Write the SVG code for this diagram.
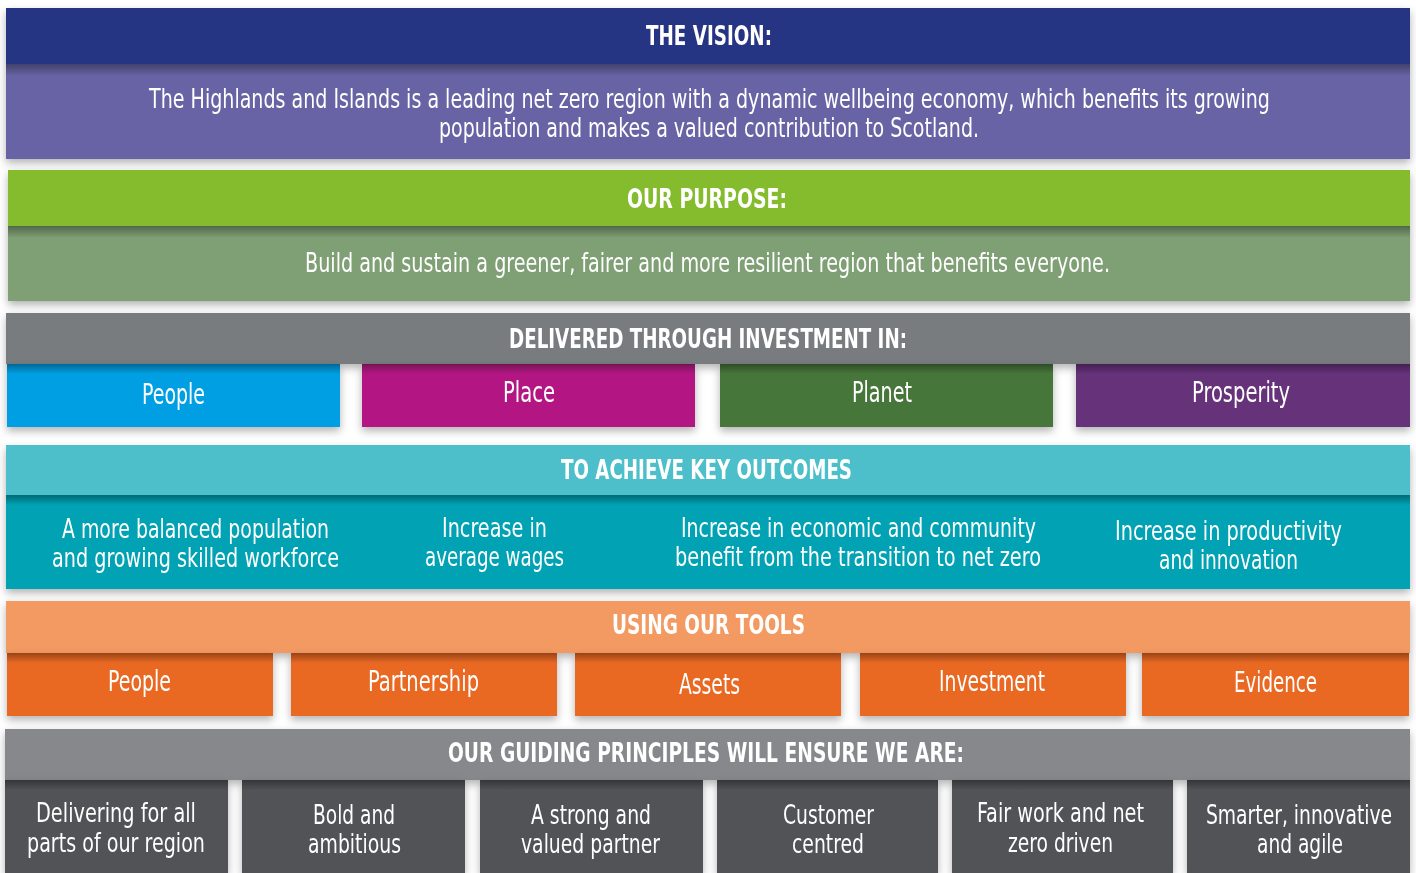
<svg xmlns="http://www.w3.org/2000/svg" width="1416" height="873" viewBox="0 0 1416 873">
<defs>
<filter id="ds" x="-5%" y="-20%" width="110%" height="150%">
<feDropShadow dx="0" dy="4" stdDeviation="4" flood-color="#000" flood-opacity="0.3"/>
</filter>
<linearGradient id="ish" x1="0" y1="0" x2="0" y2="1">
<stop offset="0" stop-color="#000" stop-opacity="0.35"/>
<stop offset="1" stop-color="#000" stop-opacity="0"/>
</linearGradient>
<style>
text{fill:#fff;font-family:"Liberation Sans Narrow","DejaVu Sans Condensed","Liberation Sans",sans-serif;text-anchor:middle}
.h{font-weight:bold;font-size:26px}
.b{font-size:27px}
.c{font-size:28px}
.sh{fill:url(#ish)}
</style>
</defs>
<rect width="1416" height="873" fill="#fff"/>

<g id="vision" filter="url(#ds)">
<rect x="6" y="8" width="1404" height="56" fill="#283583"/>
<rect x="6" y="64" width="1404" height="95" fill="#6764a4"/>
<rect class="sh" x="6" y="64" width="1404" height="12"/>
<text class="h" x="709" y="45" textLength="126" lengthAdjust="spacingAndGlyphs">THE VISION:</text>
<text class="b" transform="translate(709.5,108) scale(0.8,1)" x="0" y="0" textLength="1401" lengthAdjust="spacingAndGlyphs">The Highlands and Islands is a leading net zero region with a dynamic wellbeing economy, which benefits its growing</text>
<text class="b" x="709" y="137" textLength="540" lengthAdjust="spacingAndGlyphs">population and makes a valued contribution to Scotland.</text>
</g>

<g id="purpose" filter="url(#ds)">
<rect x="8" y="170" width="1402" height="56" fill="#84bc2e"/>
<rect x="8" y="226" width="1402" height="75" fill="#7f9f74"/>
<rect class="sh" x="8" y="226" width="1402" height="12"/>
<text class="h" x="707" y="208" textLength="160" lengthAdjust="spacingAndGlyphs">OUR PURPOSE:</text>
<text class="b" x="707.5" y="272" textLength="805" lengthAdjust="spacingAndGlyphs">Build and sustain a greener, fairer and more resilient region that benefits everyone.</text>
</g>

<g id="delivered" filter="url(#ds)">
<rect x="6" y="313" width="1404" height="51" fill="#787b7e"/>
<text class="h" x="708" y="348" textLength="398" lengthAdjust="spacingAndGlyphs">DELIVERED THROUGH INVESTMENT IN:</text>
</g>
<g id="inv-people" filter="url(#ds)">
<rect x="7" y="364" width="333" height="63" fill="#009fe3"/>
<rect class="sh" x="7" y="364" width="333" height="10"/>
<text class="c" x="173.5" y="404" textLength="63" lengthAdjust="spacingAndGlyphs">People</text>
</g>
<g id="inv-place" filter="url(#ds)">
<rect x="362" y="364" width="333" height="63" fill="#b31983"/>
<rect class="sh" x="362" y="364" width="333" height="10"/>
<text class="c" x="529" y="402" textLength="52" lengthAdjust="spacingAndGlyphs">Place</text>
</g>
<g id="inv-planet" filter="url(#ds)">
<rect x="720" y="364" width="333" height="63" fill="#47763a"/>
<rect class="sh" x="720" y="364" width="333" height="10"/>
<text class="c" x="882" y="402" textLength="60" lengthAdjust="spacingAndGlyphs">Planet</text>
</g>
<g id="inv-prosperity" filter="url(#ds)">
<rect x="1076" y="364" width="334" height="63" fill="#66327a"/>
<rect class="sh" x="1076" y="364" width="334" height="10"/>
<text class="c" x="1241" y="402" textLength="98" lengthAdjust="spacingAndGlyphs">Prosperity</text>
</g>

<g id="outcomes" filter="url(#ds)">
<rect x="6" y="445" width="1404" height="50" fill="#4dbfcb"/>
<rect x="6" y="495" width="1404" height="94" fill="#00a2b3"/>
<rect class="sh" x="6" y="495" width="1404" height="10"/>
<text class="h" x="706.5" y="479" textLength="291" lengthAdjust="spacingAndGlyphs">TO ACHIEVE KEY OUTCOMES</text>
<text class="b" x="195.5" y="538" textLength="267" lengthAdjust="spacingAndGlyphs">A more balanced population</text>
<text class="b" x="195.5" y="567" textLength="287" lengthAdjust="spacingAndGlyphs">and growing skilled workforce</text>
<text class="b" x="494.5" y="537" textLength="105" lengthAdjust="spacingAndGlyphs">Increase in</text>
<text class="b" x="494.5" y="566" textLength="139" lengthAdjust="spacingAndGlyphs">average wages</text>
<text class="b" x="858.5" y="537" textLength="355" lengthAdjust="spacingAndGlyphs">Increase in economic and community</text>
<text class="b" x="858" y="566" textLength="366" lengthAdjust="spacingAndGlyphs">benefit from the transition to net zero</text>
<text class="b" x="1228.5" y="540" textLength="227" lengthAdjust="spacingAndGlyphs">Increase in productivity</text>
<text class="b" x="1228.5" y="569" textLength="139" lengthAdjust="spacingAndGlyphs">and innovation</text>
</g>

<g id="tools" filter="url(#ds)">
<rect x="6" y="601" width="1404" height="52" fill="#f39a62"/>
<text class="h" x="708.5" y="634" textLength="193" lengthAdjust="spacingAndGlyphs">USING OUR TOOLS</text>
</g>
<g id="tool-people" filter="url(#ds)">
<rect x="7" y="653" width="266" height="63" fill="#e96823"/>
<rect class="sh" x="7" y="653" width="266" height="10"/>
<text class="c" x="139.5" y="691" textLength="63" lengthAdjust="spacingAndGlyphs">People</text>
</g>
<g id="tool-partnership" filter="url(#ds)">
<rect x="291" y="653" width="266" height="63" fill="#e96823"/>
<rect class="sh" x="291" y="653" width="266" height="10"/>
<text class="c" x="423.5" y="691" textLength="111" lengthAdjust="spacingAndGlyphs">Partnership</text>
</g>
<g id="tool-assets" filter="url(#ds)">
<rect x="575" y="653" width="266" height="63" fill="#e96823"/>
<rect class="sh" x="575" y="653" width="266" height="10"/>
<text class="c" x="709.5" y="694" textLength="61" lengthAdjust="spacingAndGlyphs">Assets</text>
</g>
<g id="tool-investment" filter="url(#ds)">
<rect x="860" y="653" width="266" height="63" fill="#e96823"/>
<rect class="sh" x="860" y="653" width="266" height="10"/>
<text class="c" x="992" y="691" textLength="106" lengthAdjust="spacingAndGlyphs">Investment</text>
</g>
<g id="tool-evidence" filter="url(#ds)">
<rect x="1142" y="653" width="267" height="63" fill="#e96823"/>
<rect class="sh" x="1142" y="653" width="267" height="10"/>
<text class="c" x="1275.5" y="692" textLength="83" lengthAdjust="spacingAndGlyphs">Evidence</text>
</g>

<g id="principles" filter="url(#ds)">
<rect x="5" y="729" width="1405" height="51" fill="#87888c"/>
<text class="h" x="706" y="762" textLength="516" lengthAdjust="spacingAndGlyphs">OUR GUIDING PRINCIPLES WILL ENSURE WE ARE:</text>
</g>
<g id="pr-1" filter="url(#ds)">
<rect x="5" y="780" width="223" height="93" fill="#515257"/>
<rect class="sh" x="5" y="780" width="223" height="10"/>
<text class="b" x="116" y="822" textLength="160" lengthAdjust="spacingAndGlyphs">Delivering for all</text>
<text class="b" x="116" y="852" textLength="178" lengthAdjust="spacingAndGlyphs">parts of our region</text>
</g>
<g id="pr-2" filter="url(#ds)">
<rect x="242" y="780" width="223" height="93" fill="#515257"/>
<rect class="sh" x="242" y="780" width="223" height="10"/>
<text class="b" x="354" y="824" textLength="82" lengthAdjust="spacingAndGlyphs">Bold and</text>
<text class="b" x="354.5" y="853" textLength="93" lengthAdjust="spacingAndGlyphs">ambitious</text>
</g>
<g id="pr-3" filter="url(#ds)">
<rect x="480" y="780" width="223" height="93" fill="#515257"/>
<rect class="sh" x="480" y="780" width="223" height="10"/>
<text class="b" x="591" y="824" textLength="120" lengthAdjust="spacingAndGlyphs">A strong and</text>
<text class="b" x="590.5" y="853" textLength="139" lengthAdjust="spacingAndGlyphs">valued partner</text>
</g>
<g id="pr-4" filter="url(#ds)">
<rect x="717" y="780" width="221" height="93" fill="#515257"/>
<rect class="sh" x="717" y="780" width="221" height="10"/>
<text class="b" x="828.5" y="824" textLength="91" lengthAdjust="spacingAndGlyphs">Customer</text>
<text class="b" x="828" y="853" textLength="72" lengthAdjust="spacingAndGlyphs">centred</text>
</g>
<g id="pr-5" filter="url(#ds)">
<rect x="952" y="780" width="221" height="93" fill="#515257"/>
<rect class="sh" x="952" y="780" width="221" height="10"/>
<text class="b" x="1060.5" y="822" textLength="167" lengthAdjust="spacingAndGlyphs">Fair work and net</text>
<text class="b" x="1060.5" y="852" textLength="105" lengthAdjust="spacingAndGlyphs">zero driven</text>
</g>
<g id="pr-6" filter="url(#ds)">
<rect x="1187" y="780" width="223" height="93" fill="#515257"/>
<rect class="sh" x="1187" y="780" width="223" height="10"/>
<text class="b" transform="translate(1299,824) scale(0.7,1)" x="0" y="0" textLength="266" lengthAdjust="spacingAndGlyphs">Smarter, innovative</text>
<text class="b" x="1300" y="853" textLength="86" lengthAdjust="spacingAndGlyphs">and agile</text>
</g>
<g id="connectors"/>
</svg>
